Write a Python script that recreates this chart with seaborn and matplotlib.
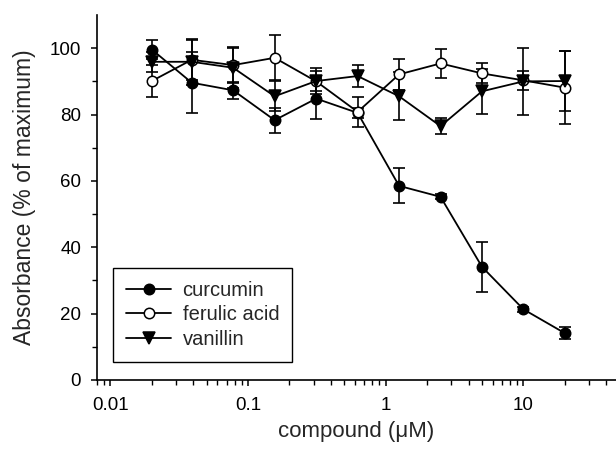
import matplotlib
matplotlib.use("Agg")
import matplotlib.pyplot as plt
import seaborn as sns
import numpy as np
import pandas as pd
from matplotlib.ticker import FixedLocator, NullFormatter, LogLocator

conc = [0.02, 0.039, 0.078, 0.156, 0.3125, 0.625, 1.25, 2.5, 5, 10, 20]
curcumin = [99.6, 89.6, 87.3, 78.3, 84.8, 80.5, 58.5, 55.2, 34.1, 21.3, 14.1]
curcumin_err = [2.8, 9.2, 2.5, 3.8, 6.2, 1.5, 5.3, 0.8, 7.5, 0.8, 1.8]
ferulic = [90.1, 96.5, 94.9, 97.1, 90.0, 80.8, 92.1, 95.4, 92.4, 90.3, 88.1]
ferulic_err = [4.8, 6.0, 5.5, 6.8, 3.0, 4.5, 4.6, 4.4, 3.0, 2.8, 11.0]
vanillin = [95.9, 95.9, 94.1, 85.5, 90.1, 91.6, 85.5, 76.5, 87.0, 90.0, 90.1]
vanillin_err = [3.0, 7.0, 6.0, 4.5, 4.0, 3.3, 7.2, 2.5, 6.7, 10.0, 9.0]

labels = ["curcumin", "ferulic acid", "vanillin"]
x_ticks = [0.01, 0.1, 1, 10]
x_ticklabels = ["0.01", "0.1", "1", "10"]
y_ticks = [0, 20, 40, 60, 80, 100]

sns.set_style("ticks")
plt.rcParams["font.family"] = ["Liberation Sans", "DejaVu Sans"]

fig = plt.figure(figsize=(6.16, 4.58), dpi=100)
ax = fig.add_axes([97/616, 1-380/458, (616-97)/616, 365/458])

series = [
    (labels[0], curcumin, curcumin_err, "o", "black"),
    (labels[1], ferulic, ferulic_err, "o", "white"),
    (labels[2], vanillin, vanillin_err, "v", "black"),
]
order = [0, 2, 1]
for i in order:
    name, vals, errs, mk, fc = series[i]
    ax.errorbar(conc, vals, yerr=errs, fmt="none", ecolor="black",
                elinewidth=1.2, capsize=4, capthick=1.2, zorder=2 + i)
    df = pd.DataFrame({"conc": conc, "val": vals})
    sns.lineplot(data=df, x="conc", y="val", ax=ax, color="black",
                 linewidth=1.3, marker=mk, markersize=7.5 if mk == "o" else 8,
                 markerfacecolor=fc, markeredgecolor="black",
                 markeredgewidth=1.1, label=name, zorder=3 + i)

ax.set_xscale("log")
ax.set_xlim(0.008, 47)
ax.set_ylim(0, 110)
ax.xaxis.set_major_locator(FixedLocator(x_ticks))
ax.set_xticklabels(x_ticklabels)
ax.xaxis.set_minor_locator(LogLocator(base=10, subs=np.arange(2, 10)))
ax.xaxis.set_minor_formatter(NullFormatter())
ax.set_yticks(y_ticks)
ax.set_yticks(np.arange(10, 110, 20), minor=True)

ax.spines["top"].set_visible(False)
ax.spines["right"].set_visible(False)
for s in ["left", "bottom"]:
    ax.spines[s].set_linewidth(1.2)
    ax.spines[s].set_color("black")
ax.tick_params(which="major", direction="out", length=4.5, width=1.1, colors="black",
               labelsize=13.5)
ax.tick_params(axis="y", which="major", pad=7)
ax.tick_params(axis="x", which="major", pad=8)
ax.tick_params(which="minor", direction="out", length=3.5, width=1.0, colors="black")

ax.set_xlabel("compound (\u03bcM)", fontsize=16, labelpad=5)
ax.set_ylabel("Absorbance (% of maximum)", fontsize=16.5, labelpad=10)

handles, lbls = ax.get_legend_handles_labels()
hmap = dict(zip(lbls, handles))
leg = ax.legend([hmap[l] for l in labels], labels, loc="lower left",
                bbox_to_anchor=(0.031, 0.049), fancybox=False, framealpha=1,
                edgecolor="black", fontsize=14.5, handlelength=2.25,
                borderpad=0.65, labelspacing=0.28, handletextpad=0.55,
                borderaxespad=0)
leg.get_frame().set_linewidth(1.0)

fig.savefig("out.png", dpi=100)
